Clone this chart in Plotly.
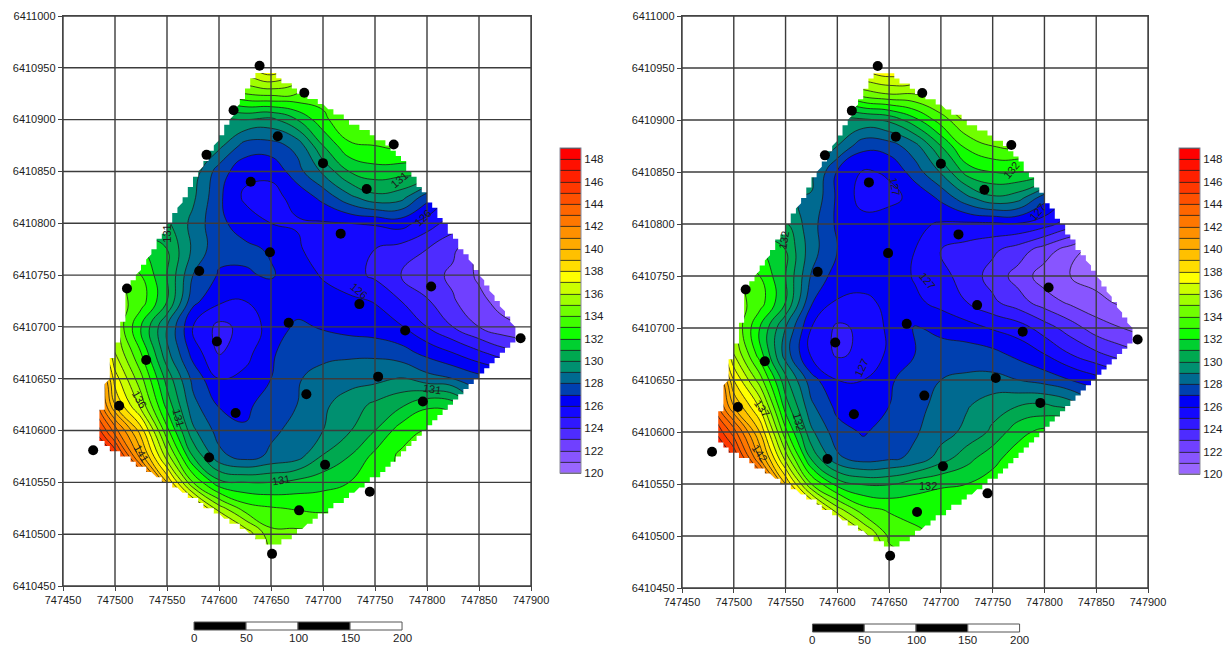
import plotly.graph_objects as go

N = None
x_nodes = [747475,747500,747525,747550,747575,747600,747625,747650,747675,747700,747725,747750,747775,747800,747825,747850,747875,747900]
y_nodes = [6410975,6410950,6410925,6410900,6410875,6410850,6410825,6410800,6410775,6410750,6410725,6410700,6410675,6410650,6410625,6410600,6410575,6410550,6410525,6410500,6410475]

z_left = [
[N,N,N,N,N,N,140,141,140,N,N,N,N,N,N,N,N,N],
[N,N,N,N,N,138,137,138,136.5,134,N,N,N,N,N,N,N,N],
[N,N,N,N,N,133,134,134.3,134,133.5,133.5,N,N,N,N,N,N,N],
[N,N,N,N,129.8,129.8,130,129.7,131,132.7,134,134,N,N,N,N,N,N],
[N,N,N,129.8,129.6,129.3,127.6,127.6,128.3,131,132.8,133,133.3,133,N,N,N,N],
[N,N,129.6,129.6,129.6,127.5,126.3,126.2,127.6,129.2,131,131.6,131.4,131,N,N,N,N],
[N,N,129,129.2,129.2,127.2,125.8,125.7,126.3,127.3,128.7,129.7,129.4,127.4,126,N,N,N],
[N,130,130,130.2,128.7,127.2,126.6,126,125.9,125.9,126,126.1,126.4,125.5,124.5,124,N,N],
[N,132,132,131,128.8,127.3,127.2,126.9,126.2,125.3,125.4,125,124.6,124,123.2,122,N,N],
[N,134,133,131,128,126.9,126.9,127.1,126.5,125.9,125.4,124.8,124,123.4,122.8,121.8,121,N],
[135,134.5,133.5,131,127.3,126.2,126,126.4,126.5,126.4,126.2,125.95,125,124.1,123.1,122.3,121.5,121],
[137,135,132,129,126,124.7,125.3,126.4,127.2,126.9,126.6,126.4,126.1,125,124,123,122.3,122],
[141,136,133,129.3,126.6,124.9,125.6,126.9,127.4,127.7,127.8,127.8,127.4,126.7,126,125.2,124.4,124],
[145,137.5,134.3,130.6,127.7,126,126.3,127,127.9,128.4,128.6,128.7,129.1,128.4,128,127.4,127,N],
[145,139,135.6,131.6,128.3,126.9,126.8,127.4,128,128.8,129.5,130.2,130.8,131.8,131.5,129,N,N],
[147,142.5,138.5,133.3,129.2,127.6,127.1,127.8,128.3,129,129.9,131,132.5,133,133,N,N,N],
[148,146,140.5,135.5,131,128.3,127.6,128.2,128.6,130.1,131,132.3,133.2,133.5,N,N,N,N],
[N,148,145,139,134,131.3,131,131,131.3,131.6,132,132.7,133,N,N,N,N,N],
[N,N,N,142,139,135.5,133.5,133.1,132.9,132.8,133,133,N,N,N,N,N,N],
[N,N,N,N,142,139,136.8,134.3,134.3,134,134,N,N,N,N,N,N,N],
[N,N,N,N,N,138,137,134.8,134.4,134,N,N,N,N,N,N,N,N],
]

z_right = [
[N,N,N,N,N,N,140,141,140,N,N,N,N,N,N,N,N,N],
[N,N,N,N,N,138,137.5,138,137.5,136,N,N,N,N,N,N,N,N],
[N,N,N,N,N,133,134.5,135,135,135.5,135.5,N,N,N,N,N,N,N],
[N,N,N,N,129.6,129.6,129.8,130.2,131.7,133.5,135,135,N,N,N,N,N,N],
[N,N,N,129.6,129.4,129,127.3,127.5,128.6,131,133.3,134,134,133.5,N,N,N,N],
[N,N,129.5,129.5,129.3,126.9,125.9,126.1,127.5,129.1,131.4,132,132,131.5,N,N,N,N],
[N,N,129,129.1,128.9,126.8,125.6,125.8,126.2,127.2,128.7,129.8,129.4,127.4,126,N,N,N],
[N,130,130,130.1,128.4,126.8,126.4,126.4,126.2,125.9,125.8,125.8,125.9,125.4,124.5,124,N,N],
[N,132,132,131,128.4,127,127,126.8,126,125,124.6,124.2,123.5,122.5,121.5,120.5,N,N],
[N,134,133,131,127.9,126.5,126.4,126.6,125.9,125.3,124.6,123.6,122.6,121.5,121,120.6,120.3,N],
[135,134.5,133.5,131,127.1,125.9,125.8,126.2,126.2,125.7,125,124.2,123.4,122.5,121.8,121.3,120.8,120.5],
[137,135,132,129,126,124.8,125.2,126.2,127.1,126.7,126.4,125.9,125.5,124.5,123.5,122.5,122,121.5],
[141,136,132.5,128.5,125.8,124.85,125.2,126.2,127,127.5,127.5,127.3,126.7,126,125,124.2,123.5,123],
[145,138,134.5,130.3,127.4,126,126,126.8,127.7,128,128.2,128.3,128,127.6,127,126.4,125.8,N],
[145,140,136.8,131.5,128.2,126.7,126.6,127,127.7,128.3,128.9,129.6,130,130.2,129.6,128.3,N,N],
[147,143.5,139,133.3,129.2,127.4,126.9,127.4,127.9,128.5,129.3,130.2,131.7,132.3,132.3,N,N,N],
[148,146,141,135.6,130.8,128.2,127.5,127.8,128.2,129.5,130.6,131.7,132.5,132.8,N,N,N,N],
[N,148,145,139,134,131.6,130.9,130.9,131.6,131.9,132,132.4,132.6,N,N,N,N,N],
[N,N,N,142,139,135.5,133.4,132.9,132.6,132.5,132.6,132.8,N,N,N,N,N,N],
[N,N,N,N,142,139,136.5,133.8,133.3,133,133.5,N,N,N,N,N,N,N],
[N,N,N,N,N,138,137,134.5,134.3,134,N,N,N,N,N,N,N,N],
]

well_x = [747639,747682,747614,747656.5,747588,747700,747768,747630.5,747742,747717,747649,747581,747511.5,747804,747735,747667,747779,747890,747598,747530,747753,747684,747796,747504,747616,747479,747590.5,747702,747745,747677,747651]
well_y = [6410952,6410926,6410909,6410884,6410866,6410858,6410876,6410840,6410833,6410790,6410772,6410754,6410737,6410739,6410722,6410704,6410696.5,6410689,6410686,6410668,6410652,6410635,6410628,6410624,6410617,6410581,6410574,6410567,6410541,6410523,6410481]

hull = [(747645,6410948),(747680,6410925),(747700,6410914),(747733,6410893),(747748,6410885),(747771,6410868),(747801,6410823),(747882,6410704),(747886,6410693),(747882,6410685),(747851,6410655),(747765,6410567),(747745,6410551),(747656,6410489),(747649,6410489),(747550,6410550),(747504,6410578),(747485,6410590),(747485,6410610),(747490,6410632),(747494,6410657),(747502,6410683),(747508,6410707),(747513,6410736),(747523,6410753),(747553,6410800),(747576,6410842),(747611,6410900),(747634,6410943)]

x_ticks = list(range(747450, 747901, 50))
y_ticks = list(range(6410450, 6411001, 50))
band_colors = ["#9966ff","#8855ff","#7040ff","#4e2cff","#3018ff","#1408ff","#0000f5","#0040b0","#006a90","#009070","#00a850","#00d030","#10ff00","#40ff00","#70ff00","#a0ff00","#ccff00","#ffff00","#ffdd00","#ffc000","#ffaa00","#ff9000","#ff7700","#ff6600","#ff5000","#ff3800","#ff2000","#ff1000","#ff0000"]
bar_ticks = list(range(120, 149, 2))
scale_ticks = [0,50,100,150,200]
scale_origin = 747576
labels_left = [(747773,6410842,"131",-40),(747796,6410805,"126",-45),(747550,6410790,"131",-90),(747735,6410735,"126",40),(747523,6410630,"136",60),(747561,6410612,"131",75),(747525,6410578,"141",60),(747660,6410552,"131",-10),(747805,6410640,"131",8)]
labels_right = [(747768,6410852,"132",-50),(747656,6410836,"127",80),(747793,6410812,"127",-50),(747548,6410785,"132",-80),(747687,6410745,"127",50),(747623,6410662,"127",-65),(747527,6410623,"137",55),(747563,6410610,"132",75),(747525,6410580,"142",55),(747688,6410548,"132",0)]

FONT = "Liberation Sans"
TXT = "#1c1c1c"
W, H = 1231, 646
panels = [
    dict(xa="x", ya="y", z=z_left, labels=labels_left, left=63, right=531, top=16, bottom=586, cb=560, cbtop=148, cblen=325, bar_top=622),
    dict(xa="x2", ya="y2", z=z_right, labels=labels_right, left=682, right=1148, top=16, bottom=588, cb=1179, cbtop=148, cblen=326, bar_top=624),
]

colorscale = []
n = len(band_colors)
for i, c in enumerate(band_colors):
    colorscale += [[i / n, c], [(i + 1) / n, c]]

def scallops(points, step=5.0, sub=1.0):
    path = []
    for (x0, y0), (x1, y1) in zip(points, points[1:] + points[:1]):
        dist = max(abs(x1 - x0), abs(y1 - y0))
        count = max(1, int(dist / sub))
        for k in range(count):
            px = x0 + (x1 - x0) * k / count
            py = y0 + (y1 - y0) * k / count
            snapped = (round(px / step) * step, round(py / step) * step)
            if not path or path[-1] != snapped:
                path.append(snapped)
    path.append(path[0])
    return path

fig = go.Figure()
shapes, annos = [], []
outline = scallops(hull)
for p in panels:
    xa, ya = p["xa"], p["ya"]
    fig.add_trace(go.Contour(
        x=x_nodes, y=y_nodes, z=p["z"], xaxis=xa, yaxis=ya,
        zmin=120, zmax=149, colorscale=colorscale, autocontour=False,
        contours=dict(start=120, end=149, size=1, coloring="fill", showlines=True),
        line=dict(color="#1c1c1c", width=0.8, smoothing=1.3),
        connectgaps=False, hoverinfo="skip",
        colorbar=dict(
            x=p["cb"] / W, xanchor="left", xpad=0, y=1 - p["cbtop"] / H, yanchor="top", ypad=0,
            lenmode="pixels", len=p["cblen"], thicknessmode="pixels", thickness=21,
            tickmode="array", tickvals=bar_ticks, ticklen=0, outlinecolor="#8a8a9a", outlinewidth=1,
            tickfont=dict(family=FONT, size=11.5, color=TXT), showticklabels=True),
    ))
    # white surround outside the gridded outline
    mx = [x_ticks[0], x_ticks[-1], x_ticks[-1], x_ticks[0], x_ticks[0]] + [q[0] for q in outline] + [x_ticks[0]]
    my = [y_ticks[0], y_ticks[0], y_ticks[-1], y_ticks[-1], y_ticks[0]] + [q[1] for q in outline] + [y_ticks[0]]
    fig.add_trace(go.Scatter(x=mx, y=my, xaxis=xa, yaxis=ya, mode="lines", fill="toself",
                             fillcolor="white", line=dict(width=0, color="white"), hoverinfo="skip", showlegend=False))
    gx, gy = [], []
    for t in x_ticks:
        gx += [t, t, None]; gy += [y_ticks[0], y_ticks[-1], None]
    for t in y_ticks:
        gx += [x_ticks[0], x_ticks[-1], None]; gy += [t, t, None]
    fig.add_trace(go.Scatter(x=gx, y=gy, xaxis=xa, yaxis=ya, mode="lines",
                             line=dict(color="#3c3c3c", width=1.4), hoverinfo="skip", showlegend=False))
    fig.add_trace(go.Scatter(x=well_x, y=well_y, xaxis=xa, yaxis=ya, mode="markers", cliponaxis=False,
                             marker=dict(color="black", size=10), hoverinfo="skip", showlegend=False))
    for lx, ly, txt, ang in p["labels"]:
        annos.append(dict(x=lx, y=ly, xref=xa, yref=ya, text=txt, textangle=ang, showarrow=False,
                          font=dict(family=FONT, size=11, color="#1c1c1c")))
    top = 1 - p["bar_top"] / H
    bot = 1 - (p["bar_top"] + 8) / H
    for i, (a, b) in enumerate(zip(scale_ticks, scale_ticks[1:])):
        shapes.append(dict(type="rect", xref=xa, yref="paper", x0=scale_origin + a, x1=scale_origin + b,
                           y0=bot, y1=top, fillcolor="black" if i % 2 == 0 else "white",
                           line=dict(color="#555555", width=1)))
    for a in scale_ticks:
        annos.append(dict(x=scale_origin + a, xref=xa, y=bot - 1 / H, yref="paper", yanchor="top", text=str(a),
                          showarrow=False, borderpad=0, font=dict(family=FONT, size=11.5, color=TXT)))

def axis(p, ticks, domain, anchor, rng):
    return dict(domain=domain, range=rng, anchor=anchor, tickmode="array", tickvals=ticks, ticktext=[str(t) for t in ticks],
                showgrid=False, zeroline=False, showline=True, mirror=True, linecolor="#444444", linewidth=1.4,
                ticks="outside", ticklen=4, tickcolor="#444444", automargin=False, tickfont=dict(family=FONT, size=11, color=TXT))

a, b = panels
fig.update_layout(
    width=W, height=H, autosize=False, paper_bgcolor="white", plot_bgcolor="white",
    margin=dict(l=0, r=0, t=0, b=0, pad=0, autoexpand=False), showlegend=False, shapes=shapes, annotations=annos,
    xaxis=axis(a, x_ticks, [a["left"] / W, a["right"] / W], "y", [x_ticks[0], x_ticks[-1]]),
    yaxis=axis(a, y_ticks, [1 - a["bottom"] / H, 1 - a["top"] / H], "x", [y_ticks[0], y_ticks[-1]]),
    xaxis2=axis(b, x_ticks, [b["left"] / W, b["right"] / W], "y2", [x_ticks[0], x_ticks[-1]]),
    yaxis2=axis(b, y_ticks, [1 - b["bottom"] / H, 1 - b["top"] / H], "x2", [y_ticks[0], y_ticks[-1]]),
)
fig.write_html("out.html", config={"displayModeBar": False}, post_script="document.body.style.margin='0';document.body.style.overflow='hidden';")
